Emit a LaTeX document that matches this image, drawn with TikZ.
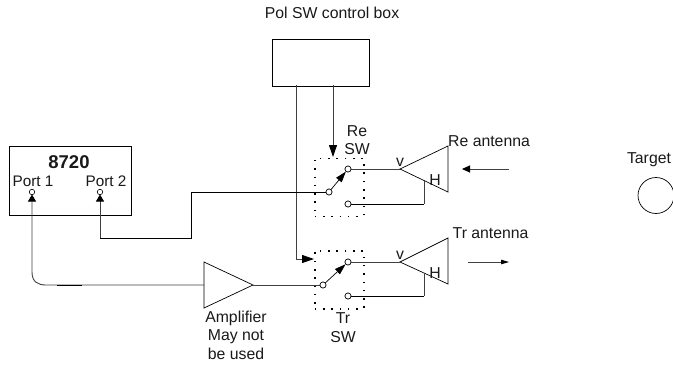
\documentclass[tikz,border=0pt]{standalone}
\usepackage{fontspec}
\setmainfont{Liberation Sans}
\usetikzlibrary{arrows.meta}
\tikzset{
  x=1pt,y=-1pt,
  wire/.style={draw=black!75,line width=0.9pt},
  blackwire/.style={draw=black,line width=0.7pt},
  darrow/.style={draw=black!75,line width=0.9pt,-{Triangle[length=12pt,width=8pt,color=black]}},
  portarrow/.style={draw=black!75,line width=0.9pt,-{Triangle[length=7pt,width=8pt,color=black]}},
  swarrow/.style={draw=black,line width=0.7pt,-{Triangle[length=11pt,width=7pt,color=black]}},
  term/.style={circle,draw=black,fill=white,line width=0.6pt,inner sep=0pt,minimum size=6pt},
  lab/.style={font=\fontsize{15.8}{18.5}\selectfont,inner sep=0pt,align=center,text=black!90},
  portlab/.style={lab,font=\fontsize{15.3}{18}\selectfont},
  tri/.style={draw=black,line width=0.7pt,fill=white},
  dotbox/.style={draw=black,line width=1.5pt,dash pattern=on 1.5pt off 6.8pt},
  plainbox/.style={draw=black,line width=0.7pt,fill=white}
}
\begin{document}
\begin{tikzpicture}
\useasboundingbox (0,0) rectangle (673,365);
\clip (0,0) rectangle (673,365);
% control box
\node[lab] (title) at (332,13) {Pol SW control box};
\node[plainbox,minimum width=97pt,minimum height=47pt,inner sep=0pt,anchor=north west] (ctrl) at (272,38.5) {};
% 8720
\node[plainbox,minimum width=122pt,minimum height=69pt,inner sep=0pt,anchor=north west] (vna) at (8.5,146) {};
\node[lab,font=\fontsize{18.5}{20}\selectfont\bfseries] (t8720) at (69,162) {8720};
\node[portlab] (p1lab) at (33,181) {Port 1};
\node[portlab] (p2lab) at (106,181) {Port 2};
\node[term,minimum size=5.5pt] (p1) at (32,192) {};
\node[term,minimum size=5.5pt] (p2) at (100,192) {};
% switch boxes
\node[dotbox,minimum width=49pt,minimum height=58pt,inner sep=0pt,anchor=north west] (rebox) at (314,157.5) {};
\node[dotbox,minimum width=49pt,minimum height=58pt,inner sep=0pt,anchor=north west] (trbox) at (314,250) {};
% antennas
\coordinate (reTip) at (400,169);
\coordinate (trTip) at (400,262);
\draw[tri] (reTip) -- (448,146) -- (448,192) -- cycle;
\draw[tri] (trTip) -- (448,238) -- (448,284) -- cycle;
% Re switch
\node[term] (reC) at (329,192) {};
\node[term] (reV) at (348,169) {};
\node[term] (reH2) at (348,204) {};
% Tr switch
\node[term] (trC) at (323,285) {};
\node[term] (trV) at (348,262) {};
\node[term] (trH2) at (348,296) {};
% amplifier
\coordinate (ampTop) at (204,262);
\coordinate (ampBot) at (204,308);
\coordinate (ampOut) at (253,285);
\coordinate (ampIn) at (204,285);
\draw[tri] (ampTop) -- (ampOut) -- (ampBot) -- cycle;
% wires
\coordinate (c1) at (296,85);
\coordinate (c2) at (333,85);
\coordinate (c3) at (296,259);
\coordinate (c4) at (314,259);
\coordinate (c5) at (333,157);
\draw[darrow] (c1) -- (c3) -- (c4);
\draw[darrow] (c2) -- (c5);
\draw[blackwire] (reC) -- (191,192) -- (191,238) -- (100,238);
\draw[portarrow] (100,238) -- (100,194.5);
\draw[portarrow] (ampIn) -- (46,285) .. controls (38,285) and (32,282) .. (32,272) -- (32,194.5);
\draw[blackwire] (57,285) -- (82,285);
\draw[wire] (ampOut) -- (trC);
\draw[swarrow] (reC) -- (reV);
\draw[swarrow] (trC) -- (trV);
\draw[wire] (reV) -- (reTip);
\draw[wire] (trV) -- (trTip);
\draw[blackwire] (reH2) -- (424,204);
\draw[wire] (424,204) -- (424,181);
\draw[blackwire] (trH2) -- (424,296);
\draw[wire] (424,296) -- (424,274);
\foreach \n in {reC,reV,reH2,trC,trV,trH2}{\node[term] at (\n) {};}
% labels
\node[lab] (rel) at (357,140) {Re\\SW};
\node[lab] (trl) at (343,327.5) {Tr\\SW};
\node[lab,anchor=west] (rean) at (448,141) {Re antenna};
\node[lab,anchor=west] (tran) at (452.5,233) {Tr antenna};
\node[lab] (v1) at (400,162) {v};
\node[lab] (h1) at (435,180) {H};
\node[lab] (v2) at (400,255) {v};
\node[lab] (h2) at (435,273) {H};
\node[lab] (amp) at (236,335) {Amplifier\\May not\\be used};
\node[lab] (tgt) at (649,160) {Target};
% propagation arrows
\coordinate (ra1) at (509,169);
\coordinate (ra2) at (462,169);
\coordinate (ta1) at (468,262);
\coordinate (ta2) at (509,262);
\draw[draw=black!75,line width=0.9pt,-{Triangle[length=8pt,width=7pt,color=black]}] (ra1) -- (ra2);
\draw[draw=black!75,line width=0.9pt,-{Triangle[length=8pt,width=4.5pt,color=black]}] (ta1) -- (ta2);
% target
\draw[line width=0.7pt,draw=black] (656,195.5) circle (18);
\end{tikzpicture}
\end{document}
